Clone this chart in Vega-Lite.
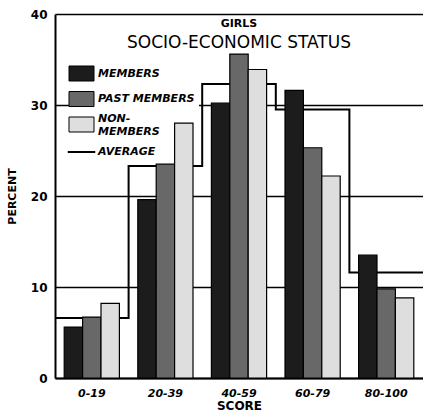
{
  "$schema": "https://vega.github.io/schema/vega-lite/v6.json",
  "autosize": "none",
  "width": 368,
  "height": 364,
  "padding": {"left": 55, "top": 14, "right": 0, "bottom": 34},
  "background": "white",
  "config": {
    "view": {"stroke": null},
    "font": "DejaVu Sans"
  },
  "title": {
    "text": "GIRLS",
    "subtitle": "SOCIO-ECONOMIC STATUS",
    "anchor": "middle",
    "frame": "group",
    "offset": -43,
    "font": "DejaVu Sans",
    "fontSize": 11,
    "fontWeight": "bold",
    "color": "black",
    "subtitleFont": "DejaVu Sans",
    "subtitleFontSize": 17,
    "subtitleColor": "black",
    "subtitlePadding": 6
  },
  "datasets": {
    "bars": [
      {"score": "0-19", "group": "MEMBERS", "percent": 5.6},
      {"score": "0-19", "group": "PAST MEMBERS", "percent": 6.7},
      {"score": "0-19", "group": "NON-MEMBERS", "percent": 8.2},
      {"score": "20-39", "group": "MEMBERS", "percent": 19.6},
      {"score": "20-39", "group": "PAST MEMBERS", "percent": 23.5},
      {"score": "20-39", "group": "NON-MEMBERS", "percent": 28.0},
      {"score": "40-59", "group": "MEMBERS", "percent": 30.2},
      {"score": "40-59", "group": "PAST MEMBERS", "percent": 35.6},
      {"score": "40-59", "group": "NON-MEMBERS", "percent": 33.9},
      {"score": "60-79", "group": "MEMBERS", "percent": 31.6},
      {"score": "60-79", "group": "PAST MEMBERS", "percent": 25.3},
      {"score": "60-79", "group": "NON-MEMBERS", "percent": 22.2},
      {"score": "80-100", "group": "MEMBERS", "percent": 13.5},
      {"score": "80-100", "group": "PAST MEMBERS", "percent": 9.8},
      {"score": "80-100", "group": "NON-MEMBERS", "percent": 8.8}
    ],
    "average": [
      {"edge": 0, "avg": 6.6},
      {"edge": 1, "avg": 23.3},
      {"edge": 2, "avg": 32.3},
      {"edge": 3, "avg": 29.5},
      {"edge": 4, "avg": 11.6},
      {"edge": 5, "avg": 11.6}
    ]
  },
  "layer": [
    {
      "data": {"name": "average"},
      "mark": {"type": "line", "interpolate": "step-after", "color": "black", "strokeWidth": 2},
      "encoding": {
        "x": {"field": "edge", "type": "quantitative", "scale": {"domain": [0, 5], "nice": false, "zero": false}, "axis": null},
        "y": {"field": "avg", "type": "quantitative"}
      }
    },
    {
      "data": {"name": "bars"},
      "mark": {"type": "bar", "stroke": "black", "strokeWidth": 1.2},
      "encoding": {
        "x": {
          "field": "score", "type": "nominal", "sort": null,
          "scale": {"paddingInner": 0.25, "paddingOuter": 0.125},
          "axis": {
            "title": "SCORE", "labelAngle": 0, "ticks": false,
            "domainColor": "black", "domainWidth": 2,
            "labelFont": "DejaVu Sans", "labelFontSize": 11, "labelFontWeight": "bold", "labelFontStyle": "italic",
            "labelColor": "black", "labelPadding": 9,
            "titleFont": "DejaVu Sans", "titleFontSize": 12, "titleFontWeight": "bold", "titleColor": "black", "titlePadding": 2
          }
        },
        "xOffset": {"field": "group", "type": "nominal", "sort": ["MEMBERS", "PAST MEMBERS", "NON-MEMBERS"], "scale": {"paddingInner": 0, "paddingOuter": 0}},
        "y": {
          "field": "percent", "type": "quantitative",
          "scale": {"domain": [0, 40], "nice": false},
          "axis": {
            "title": "PERCENT", "values": [0, 10, 20, 30, 40], "ticks": false,
            "grid": true, "gridColor": "black", "gridWidth": 1.3, "gridOpacity": 1,
            "domainColor": "black", "domainWidth": 2,
            "labelFont": "DejaVu Sans", "labelFontSize": 12, "labelFontWeight": "bold", "labelColor": "black", "labelPadding": 8,
            "titleFont": "DejaVu Sans", "titleFontSize": 11, "titleFontWeight": "bold", "titleColor": "black",
            "titleX": -43, "titleY": 182, "titleAngle": 270, "titleBaseline": "middle", "titleAlign": "center"
          }
        },
        "color": {
          "field": "group", "type": "nominal",
          "scale": {"domain": ["MEMBERS", "PAST MEMBERS", "NON-MEMBERS", "AVERAGE"], "range": ["#1c1c1c", "#686868", "#dedede", "#000000"]},
          "legend": {
            "title": null, "orient": "none", "legendX": 17, "legendY": 50,
            "padding": 4, "strokeColor": null,
            "symbolType": "M-1,-1M-1,-0.6L1,-0.6L1,0.6L-1,0.6ZM1,1", "symbolSize": 625,
            "symbolStrokeColor": "black", "symbolStrokeWidth": 1, "symbolOpacity": 1,
            "rowPadding": -3.5, "labelOffset": 11,
            "labelFont": "DejaVu Sans", "labelFontSize": 11, "labelFontWeight": "bold", "labelFontStyle": "italic", "labelColor": "black",
            "labelExpr": "datum.label == 'NON-MEMBERS' ? ['NON-', 'MEMBERS'] : datum.label",
            "encode": {
              "legend": {
                "update": {
                  "fill": {"value": {"gradient": "linear", "x1": 0, "y1": 0, "x2": 0, "y2": 1,
                    "stops": [
                      {"offset": 0, "color": "white"},
                      {"offset": 0.46, "color": "white"},
                      {"offset": 0.46, "color": "rgba(255,255,255,0)"},
                      {"offset": 1, "color": "rgba(255,255,255,0)"}
                    ]}}
                }
              },
              "symbols": {
                "update": {
                  "shape": {"signal": "datum.value == 'AVERAGE' ? 'M-1,-1M-1.1,0L1.1,0M1,1' : 'M-1,-1M-1,-0.6L1,-0.6L1,0.6L-1,0.6ZM1,1'"},
                  "strokeWidth": {"signal": "datum.value == 'AVERAGE' ? 2 : 1"},
                  "stroke": {"value": "black"}
                }
              },
              "labels": {
                "update": {
                  "dy": {"signal": "datum.value == 'NON-MEMBERS' ? -6 : 0"}
                }
              }
            }
          }
        }
      }
    }
  ],
  "resolve": {"scale": {"x": "independent"}}
}
